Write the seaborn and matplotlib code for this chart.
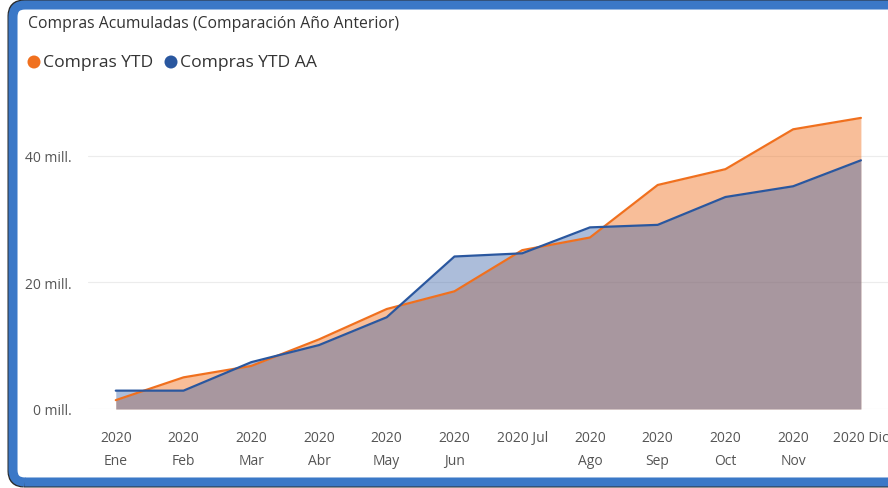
import seaborn as sns
import pandas as pd
from matplotlib import pyplot as plt
from matplotlib.patches import FancyBboxPatch, Circle

# datos (millones)
meses = ['Ene', 'Feb', 'Mar', 'Abr', 'May', 'Jun', 'Jul', 'Ago', 'Sep', 'Oct', 'Nov', 'Dic']
etiquetas = ['2020\nEne', '2020\nFeb', '2020\nMar', '2020\nAbr', '2020\nMay', '2020\nJun',
             '2020 Jul', '2020\nAgo', '2020\nSep', '2020\nOct', '2020\nNov', '2020 Dic']
compras_ytd = [1.4, 5.0, 6.8, 11.0, 15.8, 18.6, 25.1, 27.1, 35.4, 37.9, 44.2, 46.0]
compras_ytd_aa = [2.9, 2.9, 7.4, 10.1, 14.5, 24.1, 24.6, 28.7, 29.1, 33.5, 35.2, 39.3]

naranja = '#F0701E'
azul = '#2A579F'

sns.set_style('white')
plt.rcParams['font.family'] = ['Open Sans', 'DejaVu Sans']

df = pd.DataFrame({
    'mes': meses * 2,
    'valor': compras_ytd + compras_ytd_aa,
    'serie': ['Compras YTD'] * 12 + ['Compras YTD AA'] * 12,
})

fig = plt.figure(figsize=(8.88, 4.89), dpi=100)
ax = fig.add_axes([88 / 888, 1 - 410 / 489, 800 / 888, (410 - 93.6) / 489])

pos = list(range(len(meses)))
ax.fill_between(pos, 0, compras_ytd, color=naranja, alpha=0.45, linewidth=0)
ax.fill_between(pos, 0, compras_ytd_aa, color='#3A62A8', alpha=0.42, linewidth=0)
sns.lineplot(data=df, x='mes', y='valor', hue='serie', palette=[naranja, azul],
             linewidth=1.6, legend=False, ax=ax, sort=False)

ax.set_xlim(-0.41, 11.4)
ax.set_ylim(0, 50)
ax.set_yticks([0, 20, 40])
ax.set_yticklabels(['0 mill.', '20 mill.', '40 mill.'])
ax.set_xticks(pos)
ax.set_xticklabels(etiquetas, linespacing=1.75)
ax.tick_params(axis='x', length=0, pad=15, labelsize=10, labelcolor='#555555')
ax.tick_params(axis='y', length=0, pad=12, labelsize=10, labelcolor='#555555')
ax.set_xlabel('')
ax.set_ylabel('')
ax.grid(axis='y', color='#ececec', linewidth=0.8)
ax.set_axisbelow(True)
sns.despine(ax=ax, left=True, bottom=True)

# titulo y leyenda
fig.text(28 / 888, 1 - 24 / 489, 'Compras Acumuladas (Comparación Año Anterior)',
         fontsize=11.3, color='#333333', va='center', ha='left')
for x0, color, texto in [(34, naranja, 'Compras YTD'), (171, azul, 'Compras YTD AA')]:
    fig.patches.append(Circle((x0, 489 - 63), 6.5, transform=None,
                              facecolor=color, edgecolor='none'))
    fig.text((x0 + 9) / 888, 1 - 63 / 489, texto, fontsize=12.6, color='#333333',
             va='center', ha='left')

# marco azul
fig.patches.append(FancyBboxPatch((12, 5), 900, 479, boxstyle='round,pad=0,rounding_size=12',
                                  transform=None, facecolor='none', edgecolor='#2b2b2b',
                                  linewidth=6.5))
fig.patches.append(FancyBboxPatch((13, 6), 900, 477, boxstyle='round,pad=0,rounding_size=12',
                                  transform=None, facecolor='none', edgecolor='#3B78C7',
                                  linewidth=6.5))

fig.savefig('out.png', dpi=100)
